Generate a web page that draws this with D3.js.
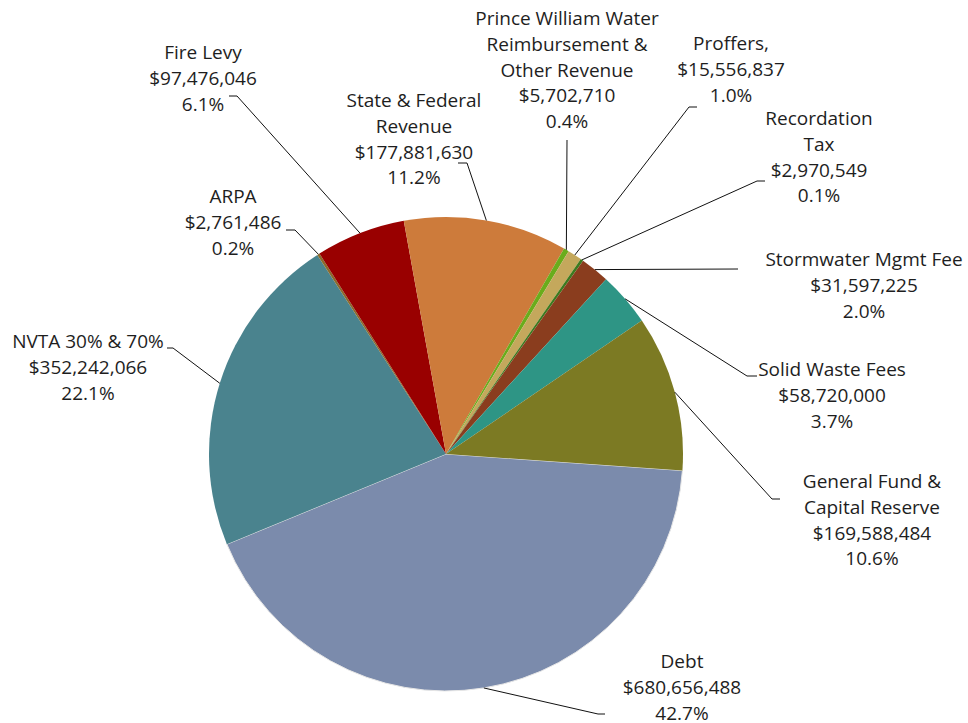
<!DOCTYPE html>
<html>
<head>
<meta charset="utf-8">
<script src="https://cdn.jsdelivr.net/npm/d3@7"></script>
<style>
  body { margin: 0; background: #fff; }
  text { font-family: "Open Sans", sans-serif; font-size: 19px; fill: #1e1e1e; }
</style>
</head>
<body>
<svg id="chart"></svg>
<script>
// slices, clockwise starting at Debt
const categories = [
    ["Debt"],
    ["NVTA 30% & 70%"],
    ["ARPA"],
    ["Fire Levy"],
    ["State & Federal", "Revenue"],
    ["Prince William Water", "Reimbursement &", "Other Revenue"],
    ["Proffers,"],
    ["Recordation", "Tax"],
    ["Stormwater Mgmt Fee"],
    ["Solid Waste Fees"],
    ["General Fund &", "Capital Reserve"]
];
const values = [680656488, 352242066, 2761486, 97476046, 177881630, 5702710,
    15556837, 2970549, 31597225, 58720000, 169588484];
const percents = ["42.7%", "22.1%", "0.2%", "6.1%", "11.2%", "0.4%",
    "1.0%", "0.1%", "2.0%", "3.7%", "10.6%"];

const colors = ["#7b8bac", "#4a838e", "#8a6a2c", "#990000", "#cd7b3b", "#6aac1c",
    "#c4a85c", "#3c7a1e", "#8a3d1e", "#2e9585", "#7c7a23"];

// label placement: text center x, first baseline, leader elbow and end
const labelLayout = [
    {cx: 682, y: 668, elbow: [598, 714], end: [605, 714]},
    {cx: 88, y: 348, elbow: [173, 348], end: [167, 348]},
    {cx: 233, y: 203, elbow: [295, 230], end: [286, 230]},
    {cx: 203, y: 59, elbow: [237, 96], end: [229, 96]},
    {cx: 414, y: 107, elbow: [467, 163], end: [458, 163]},
    {cx: 567, y: 25, elbow: [567, 140], end: [567, 140]},
    {cx: 731, y: 50, elbow: [689, 107], end: [697, 107]},
    {cx: 819, y: 125, elbow: [757, 181], end: [765, 181]},
    {cx: 864, y: 266, elbow: [738, 269], end: [738, 269]},
    {cx: 832, y: 376, elbow: [747, 376], end: [757, 376]},
    {cx: 872, y: 488, elbow: [772, 499], end: [780, 499]}
];

const width = 968, height = 723;
const cx = 446, cy = 454, radius = 237;
const lineH = 25.8;
const fmt = d3.format("$,");

const svg = d3.select("#chart")
    .attr("width", width)
    .attr("height", height);

const data = values.map((v, i) => ({name: categories[i], value: v, pct: percents[i], layout: labelLayout[i], color: colors[i]}));

const start = 94 * Math.PI / 180;
const pie = d3.pie()
    .sort(null)
    .value(d => d.value)
    .startAngle(start)
    .endAngle(start + 2 * Math.PI);

const arc = d3.arc().innerRadius(0).outerRadius(radius);

const g = svg.append("g")
    .attr("transform", `translate(${cx},${cy})`);

const arcs = pie(data);

g.selectAll("path.slice")
    .data(arcs)
    .enter()
    .append("path")
    .attr("class", "slice")
    .attr("d", arc)
    .attr("fill", d => d.data.color)
    .attr("stroke", (d, i) => i === 0 ? "#e6e6e6" : "none")
    .attr("stroke-width", 1);

// leader lines from the rim at the mid angle
svg.selectAll("polyline.leader")
    .data(arcs)
    .enter()
    .append("polyline")
    .attr("class", "leader")
    .attr("fill", "none")
    .attr("stroke", "#111")
    .attr("stroke-width", 1)
    .attr("points", d => {
        const a = (d.startAngle + d.endAngle) / 2;
        const x0 = cx + radius * Math.sin(a);
        const y0 = cy - radius * Math.cos(a);
        const L = d.data.layout;
        return [[x0, y0], L.elbow, L.end].map(p => p.join(",")).join(" ");
    });

// labels: name lines, value, percent
const labels = svg.selectAll("text.label")
    .data(data)
    .enter()
    .append("text")
    .attr("class", "label")
    .attr("text-anchor", "middle")
    .attr("x", d => d.layout.cx)
    .attr("y", d => d.layout.y);

labels.each(function(d) {
    const lines = d.name.concat([fmt(d.value), d.pct]);
    d3.select(this).selectAll("tspan")
        .data(lines)
        .enter()
        .append("tspan")
        .attr("x", d.layout.cx)
        .attr("dy", (t, i) => i === 0 ? 0 : lineH)
        .text(t => t);
});
</script>
</body>
</html>
